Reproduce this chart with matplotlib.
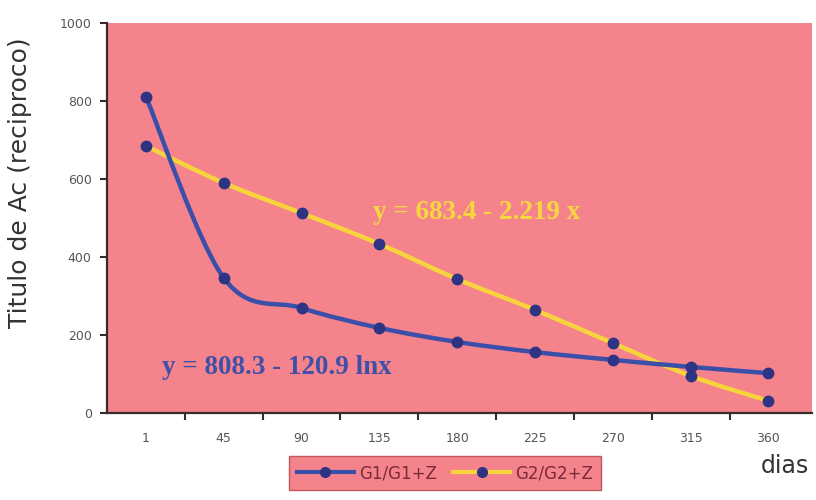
import matplotlib
matplotlib.use("Agg")
import matplotlib.pyplot as plt
import numpy as np
from matplotlib.path import Path
from matplotlib.patches import PathPatch
from matplotlib.lines import Line2D

categories = ["1", "45", "90", "135", "180", "225", "270", "315", "360"]
g1 = [810, 346, 269, 218, 182, 156, 136, 118, 102]
g2 = [684, 589, 512, 433, 343, 264, 179, 95, 31]
series_names = ["G1/G1+Z", "G2/G2+Z"]
eq1 = "y = 808.3 - 120.9 lnx"
eq2 = "y = 683.4 - 2.219 x"
yticks = [0, 200, 400, 600, 800, 1000]

PINK = "#F4838C"
BLUE = "#3A4FA8"
NAVY = "#2E3384"
YELLOW = "#F7D43C"

fig = plt.figure(figsize=(8.16, 5.0), dpi=100)
ax = fig.add_axes([107/816, 1-413/500, (812-107)/816, (413-22.5)/500])
ax.set_facecolor(PINK)

xs = np.arange(len(categories))


def smooth_path(x, y, t=0.5):
    x = np.asarray(x, float); y = np.asarray(y, float)
    verts = [(x[0], y[0])]
    codes = [Path.MOVETO]
    n = len(x)
    for i in range(n - 1):
        p0 = np.array([x[max(i-1, 0)], y[max(i-1, 0)]])
        p1 = np.array([x[i], y[i]])
        p2 = np.array([x[i+1], y[i+1]])
        p3 = np.array([x[min(i+2, n-1)], y[min(i+2, n-1)]])
        c1 = p1 + (p2 - p0) * t / 3.0
        c2 = p2 - (p3 - p1) * t / 3.0
        verts += [tuple(c1), tuple(c2), tuple(p2)]
        codes += [Path.CURVE4] * 3
    return Path(verts, codes)

ax.add_patch(PathPatch(smooth_path(xs, g2), facecolor="none", edgecolor=YELLOW, lw=3.2, zorder=3))
ax.add_patch(PathPatch(smooth_path(xs, g1), facecolor="none", edgecolor=BLUE, lw=3.2, zorder=4))
ax.plot(xs, g2, 'o', color=NAVY, ms=7.5, zorder=5)
ax.plot(xs, g1, 'o', color=NAVY, ms=7.5, zorder=6)

ax.set_xlim(-0.5, 8.56)
ax.set_ylim(0, 1000)
ax.set_yticks(yticks)
ax.set_yticklabels([str(v) for v in yticks], fontsize=9, color="#555555")
ax.set_xticks(xs)
ax.set_xticklabels(categories, fontsize=9, color="#555555")
ax.tick_params(axis='x', which='major', length=0, pad=14)
ax.set_xticks(np.arange(0.5, 8.5, 1.0), minor=True)
ax.tick_params(axis='x', which='minor', length=5, width=1.5, color="#3a2a2a", direction='out')
ax.tick_params(axis='y', length=5, width=1.5, color="#3a2a2a", direction='out', pad=6)

for s in ["top", "right"]:
    ax.spines[s].set_visible(False)
for s in ["left", "bottom"]:
    ax.spines[s].set_color("#3a2a2a")
    ax.spines[s].set_linewidth(1.6)

fig.text(20/816, 1-183/500, "Titulo de Ac (reciproco)", fontsize=18, color="#333333",
         rotation=90, ha='center', va='center')

fig.text(162/816, 1-367/500, eq1, fontsize=19.5, fontweight='bold', family="Liberation Serif",
         color="#4050A8", va='center', ha='left')
fig.text(373/816, 1-213/500, eq2, fontsize=19.5, fontweight='bold', family="Liberation Serif",
         color="#F7D640", va='center', ha='left')

fig.text(785/816, 1-466/500, "dias", fontsize=17, color="#333333", ha='center', va='center')

handles = [Line2D([0], [0], color=BLUE, lw=3, marker='o', ms=7, mfc=NAVY, mec=NAVY),
           Line2D([0], [0], color=YELLOW, lw=3, marker='o', ms=7, mfc=NAVY, mec=NAVY)]
leg = fig.legend(handles, series_names, loc='center', bbox_to_anchor=(445/816, 1-473/500),
                 ncol=2, frameon=True, fancybox=False, fontsize=12, handlelength=3.4,
                 columnspacing=1.0, handletextpad=0.3, borderpad=0.5)
leg.get_frame().set_facecolor(PINK)
leg.get_frame().set_edgecolor("#c05a60")
leg.get_frame().set_alpha(1)
for t in leg.get_texts():
    t.set_color("#7a2a3a")

fig.savefig("out.png", dpi=100)
